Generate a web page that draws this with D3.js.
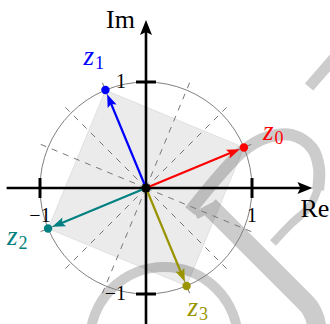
<!DOCTYPE html>
<html><head><meta charset="utf-8">
<script src="https://cdn.jsdelivr.net/npm/d3@7"></script>
<style>html,body{margin:0;padding:0;background:#fff}svg{display:block}</style>
</head><body>
<script>
// Fourth roots of i: z_k = exp(i(pi/8 + k*pi/2))
const rootLabels = ["0", "1", "2", "3"];
const rootRe = [0.9239, -0.3827, -0.9239, 0.3827];
const rootIm = [0.3827, 0.9239, -0.3827, -0.9239];
const rootColors = ["#ff0000", "#0000ff", "#008080", "#999400"];
// dashed guide rays (degrees), every 22.5 deg off the axes
const guideAngles = [22.5, 45, 67.5, 112.5, 135, 157.5, 202.5, 225, 247.5, 292.5, 315, 337.5];
const tickValues = [-1, 1];
const tickLabels = ["\u22121", "1"];
const axisLabels = ["Re", "Im"];

const W = 330, H = 324;
const serif = "Liberation Serif, DejaVu Serif, serif";
const x = d3.scaleLinear().domain([-1, 1]).range([40, 252]);
const y = d3.scaleLinear().domain([-1, 1]).range([294, 82]);
const unit = x(1) - x(0);

const svg = d3.select("body").append("svg").attr("width", W).attr("height", H);
svg.append("rect").attr("width", W).attr("height", H).attr("fill", "#fff");

// ---- gray background ornament (plane coordinates) ----
const orn = svg.append("g").attr("fill", "none").attr("stroke", "#cccccc");
const pl = d3.line().x(d => x(d[0])).y(d => y(d[1]));
orn.append("path")
  .attr("d", pl.curve(d3.curveCatmullRom)([[0.415, -0.217], [0.915, 0.349], [1.151, 0.481], [1.377, 0.5], [1.566, 0.377], [1.632, 0.189], [1.623, -0.019]]))
  .attr("stroke-width", 12);
orn.append("path")
  .attr("d", pl.curve(d3.curveCatmullRom)([[1.623, 0.0], [1.547, -0.17], [1.358, -0.349], [1.198, -0.519]]))
  .attr("stroke-width", 8);
orn.append("path")
  .attr("d", `M${x(0.594)},${y(-0.17)} L${x(1.509)},${y(-1.085)} Q${x(1.623)},${y(-1.198)} ${x(1.623)},${y(-1.45)}`)
  .attr("stroke-width", 19);
orn.append("path")
  .attr("d", pl.curve(d3.curveLinear)([[0.47, -0.26], [0.64, -0.17]]))
  .attr("stroke-width", 8);
orn.append("path")
  .attr("d", pl.curve(d3.curveLinear)([[1.8, 1.255], [1.538, 0.953]]))
  .attr("stroke-width", 11);
orn.append("circle")
  .attr("cx", x(0.17)).attr("cy", y(-1.443)).attr("r", 0.698 * unit)
  .attr("stroke-width", 10);

// ---- square spanned by the roots ----
svg.append("polygon")
  .attr("points", rootRe.map((r, i) => [x(r), y(rootIm[i])].join(",")).join(" "))
  .attr("fill", "#000").attr("fill-opacity", 0.08)
  .attr("stroke", "#000").attr("stroke-opacity", 0.08).attr("stroke-width", 1);

// ---- dashed guide rays ----
svg.append("g").selectAll("line").data(guideAngles).join("line")
  .attr("x1", x(0)).attr("y1", y(0))
  .attr("x2", d => x(1.1 * Math.cos(d * Math.PI / 180)))
  .attr("y2", d => y(1.1 * Math.sin(d * Math.PI / 180)))
  .attr("stroke", "#777").attr("stroke-width", 1).attr("stroke-dasharray", "6,6");

// ---- unit circle ----
svg.append("circle").attr("cx", x(0)).attr("cy", y(0)).attr("r", unit)
  .attr("fill", "none").attr("stroke", "#808080").attr("stroke-width", 1);

// arrowhead polygon with tip at (tx,ty) pointing along angle a (screen radians)
function head(tx, ty, a, len, half, notch) {
  const c = Math.cos(a), s = Math.sin(a);
  const bx = tx - len * c, by = ty - len * s;
  const pts = [[tx, ty], [bx - half * s, by + half * c], [tx - (len - notch) * c, ty - (len - notch) * s], [bx + half * s, by - half * c]];
  return pts.map(p => p.join(",")).join(" ");
}

// ---- axes ----
const ax = svg.append("g");
const xEnd = x(1.57), yEnd = y(1.585);
ax.append("line").attr("x1", x(-1.315)).attr("x2", xEnd - 8).attr("y1", y(0)).attr("y2", y(0))
  .attr("stroke", "#000").attr("stroke-width", 2.6);
ax.append("polygon").attr("points", head(xEnd, y(0), 0, 15, 6, 3)).attr("fill", "#000");
ax.append("line").attr("x1", x(0)).attr("x2", x(0)).attr("y1", y(-1.4)).attr("y2", yEnd + 8)
  .attr("stroke", "#000").attr("stroke-width", 2.6);
ax.append("polygon").attr("points", head(x(0), yEnd, -Math.PI / 2, 15, 6, 3)).attr("fill", "#000");

// ticks
ax.selectAll(".tx").data(tickValues).join("line")
  .attr("x1", d => x(d)).attr("x2", d => x(d)).attr("y1", y(0) - 10).attr("y2", y(0) + 10)
  .attr("stroke", "#000").attr("stroke-width", 3);
ax.selectAll(".ty").data(tickValues).join("line")
  .attr("y1", d => y(d)).attr("y2", d => y(d)).attr("x1", x(0) - 10).attr("x2", x(0) + 10)
  .attr("stroke", "#000").attr("stroke-width", 3);

// tick labels
ax.selectAll(".lx").data(tickValues).join("text")
  .attr("x", d => x(d)).attr("y", y(0) + 34).attr("text-anchor", "middle")
  .attr("font-family", serif).attr("font-size", 20).text((d, i) => tickLabels[i]);
ax.selectAll(".ly").data(tickValues).join("text")
  .attr("x", x(0) - 20).attr("y", d => y(d) + 6).attr("text-anchor", "end")
  .attr("font-family", serif).attr("font-size", 20).text((d, i) => tickLabels[i]);

// axis names
ax.append("text").attr("x", xEnd - 12).attr("y", y(0) + 29).attr("font-family", serif)
  .attr("font-size", 26).text(axisLabels[0]);
ax.append("text").attr("x", x(0) - 11).attr("y", yEnd + 8).attr("text-anchor", "end")
  .attr("font-family", serif).attr("font-size", 26).text(axisLabels[1]);

// ---- root vectors ----
const roots = rootRe.map((r, i) => ({ re: r, im: rootIm[i], k: rootLabels[i], c: rootColors[i] }));
const rg = svg.append("g");
roots.forEach(d => {
  const px = x(d.re), py = y(d.im);
  const a = Math.atan2(py - y(0), px - x(0));
  const tx = px - 4.5 * Math.cos(a), ty = py - 4.5 * Math.sin(a);
  rg.append("line").attr("x1", x(0)).attr("y1", y(0))
    .attr("x2", tx - 9 * Math.cos(a)).attr("y2", ty - 9 * Math.sin(a))
    .attr("stroke", d.c).attr("stroke-width", 2.2);
  rg.append("polygon").attr("points", head(tx, ty, a, 13, 4.8, 2.5)).attr("fill", d.c);
  rg.append("circle").attr("cx", px).attr("cy", py).attr("r", 4.2).attr("fill", d.c);
});
svg.append("circle").attr("cx", x(0)).attr("cy", y(0)).attr("r", 4.5).attr("fill", "#000");

// root labels z_k
const labelOffsets = [[19, -7], [-22, -25], [-41, 16], [1, 30]];
svg.append("g").selectAll("text").data(roots).join("text")
  .attr("x", (d, i) => x(d.re) + labelOffsets[i][0])
  .attr("y", (d, i) => y(d.im) + labelOffsets[i][1])
  .attr("font-family", serif).attr("fill", d => d.c)
  .each(function (d) {
    const t = d3.select(this);
    t.append("tspan").attr("font-style", "italic").attr("font-size", 27).text("z");
    t.append("tspan").attr("font-size", 18).attr("dy", 4).attr("dx", 1).text(d.k);
  });
</script>
</body></html>
